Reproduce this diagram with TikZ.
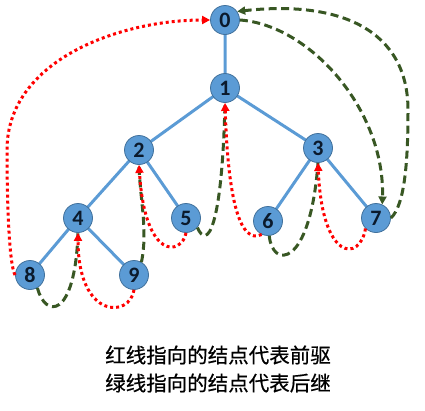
\documentclass[tikz,border=0pt]{standalone}
\usepackage{fontspec}
\setsansfont{Carlito}
\newfontfamily\cjk[FakeBold=0.6]{Noto Sans CJK SC}
\usetikzlibrary{arrows.meta}
\definecolor{nodefill}{HTML}{5B9BD5}
\definecolor{nodeline}{HTML}{41719C}
\definecolor{thrgreen}{HTML}{385723}
\definecolor{digit}{HTML}{0B1A2C}
\begin{document}
\begin{tikzpicture}[x=1pt,y=-1pt,
  tnode/.style={circle,fill=nodefill,draw=nodeline,line width=0.8pt,minimum size=29pt,inner sep=0pt,
    font=\sffamily\bfseries\fontsize{22}{22}\selectfont,text=digit},
  tedge/.style={draw=nodefill,line width=3pt},
  pred/.style={draw=red,line width=3pt,dash pattern=on 3pt off 3pt,-{Triangle[length=8pt,width=8pt]}},
  succ/.style={draw=thrgreen,line width=3pt,dash pattern=on 8pt off 4.5pt},
  succa/.style={succ,-{Triangle[length=8pt,width=8pt]}},
  caption/.style={font=\cjk\fontsize{20.5}{28}\selectfont,align=center}]
\useasboundingbox (0,0) rectangle (425,410);
% node positions
\coordinate (p0) at (225,20);
\coordinate (p1) at (225,88);
\coordinate (p2) at (139,150);
\coordinate (p3) at (318,148);
\coordinate (p4) at (78,218);
\coordinate (p5) at (186,218);
\coordinate (p6) at (268,221);
\coordinate (p7) at (376,218);
\coordinate (p8) at (30,275);
\coordinate (p9) at (134,275);
% tree edges
\path[tedge] (p0) -- (p1) (p1) -- (p2) (p1) -- (p3) (p2) -- (p4) (p2) -- (p5)
  (p3) -- (p6) (p3) -- (p7) (p4) -- (p8) (p4) -- (p9);
% nodes
\node[tnode] (n0) at (p0) {0};
\node[tnode] (n1) at (p1) {1};
\node[tnode] (n2) at (p2) {2};
\node[tnode] (n3) at (p3) {3};
\node[tnode] (n4) at (p4) {4};
\node[tnode] (n5) at (p5) {5};
\node[tnode] (n6) at (p6) {6};
\node[tnode] (n7) at (p7) {7};
\node[tnode] (n8) at (p8) {8};
\node[tnode] (n9) at (p9) {9};
% successor threads (green)
\draw[succa] (n0.east) .. controls (310,25) and (385,110) .. (n7.65);
\draw[succa] (n7.east) .. controls (405,205) and (408,160) .. (408,110)
  .. controls (408,30) and (340,0) .. (n0.35);
\draw[succ] (n8.-60) .. controls (45,318) and (75,320) .. (n4.south);
\draw[succ] (n9.60) .. controls (148,230) and (140,200) .. (n2.south);
\draw[succ] (n5.-40) .. controls (207,250) and (222,230) .. (n1.south);
\draw[succ] (n6.-85) .. controls (272,268) and (310,270) .. (n3.south);
% predecessor threads (red)
\draw[pred] (n8.west) .. controls (9,265) and (7,200) .. (7,150)
  .. controls (7,60) and (120,20) .. (n0.west);
\draw[pred] (n9.south) .. controls (130,318) and (78,320) .. (n4.south);
\draw[pred] (n5.south) .. controls (182,255) and (145,262) .. (n2.south);
\draw[pred] (n6.-115) .. controls (240,245) and (228,200) .. (n1.south);
\draw[pred] (n7.-135) .. controls (360,262) and (322,262) .. (n3.south);
% caption
\node[caption] (cap) at (218,369) {红线指向的结点代表前驱\\绿线指向的结点代表后继};
\end{tikzpicture}
\end{document}
